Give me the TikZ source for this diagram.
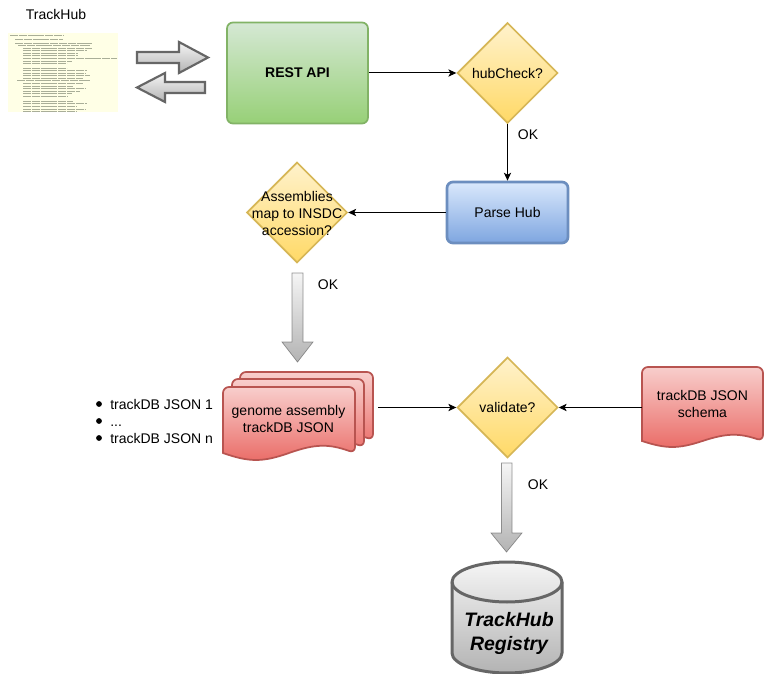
\documentclass[tikz,border=0pt]{standalone}
\usepackage{fontspec}
\setmainfont{Liberation Sans}
\usetikzlibrary{arrows.meta,shapes.geometric}
\definecolor{bordgray}{HTML}{666666}
\definecolor{lgray}{HTML}{F5F5F5}
\definecolor{dgray}{HTML}{B3B3B3}
\definecolor{greentop}{HTML}{D5E8D4}
\definecolor{greenbot}{HTML}{97D077}
\definecolor{greenbord}{HTML}{82B366}
\definecolor{yeltop}{HTML}{FFF2CC}
\definecolor{yelbot}{HTML}{FFD966}
\definecolor{yelbord}{HTML}{D6B656}
\definecolor{bluetop}{HTML}{DAE8FC}
\definecolor{bluebot}{HTML}{7EA6E0}
\definecolor{bluebord}{HTML}{6C8EBF}
\definecolor{redtop}{HTML}{F8CECC}
\definecolor{redbot}{HTML}{EA6B66}
\definecolor{redbord}{HTML}{B85450}
\definecolor{paper}{HTML}{FFFFE6}
\definecolor{codeline}{HTML}{A9AE98}
\tikzset{
  txt/.style={font=\fontsize{10.5}{12.75}\selectfont,align=center,inner sep=0pt,text=black},
  restbox/.style={rectangle,rounded corners=4.5pt,top color=greentop,bottom color=greenbot,draw=greenbord,line width=1.3pt,minimum width=105.75pt,minimum height=75.75pt,inner sep=0pt},
  parsebox/.style={rectangle,rounded corners=4.5pt,top color=bluetop,bottom color=bluebot,draw=bluebord,line width=2pt,minimum width=90.75pt,minimum height=45.75pt,inner sep=0pt},
  decision/.style={diamond,aspect=1,top color=yeltop,bottom color=yelbot,draw=yelbord,line width=1.3pt,minimum width=75.5pt,minimum height=75.5pt,inner sep=0pt},
  reddoc/.style={top color=redtop,bottom color=redbot,draw=redbord,line width=1.3pt},
  fatarrow/.style={top color=lgray,bottom color=dgray,draw=bordgray,line width=.5pt,draw opacity=.7},
  swaparrow/.style={top color=lgray,bottom color=dgray,draw=bordgray,line width=1.6pt},
  flow/.style={draw=black,line width=.75pt,-{Stealth[length=6pt,width=5.5pt,inset=1.6pt]}},
}
% x0, y0 (top), x1, yb (wave base), d
\newcommand{\wavedoc}[5]{%
  \pgfmathsetmacro{\wW}{#3-#1}%
  \pgfmathsetmacro{\wA}{#3-0.2*\wW}%
  \pgfmathsetmacro{\wB}{#3-0.3*\wW}%
  \pgfmathsetmacro{\wM}{#1+0.5*\wW}%
  \pgfmathsetmacro{\wC}{#1+0.3*\wW}%
  \pgfmathsetmacro{\wD}{#1+0.2*\wW}%
  \pgfmathsetmacro{\wU}{#4-1.33*#5}%
  \pgfmathsetmacro{\wL}{#4+1.33*#5}%
  \path[reddoc] (#1,#4) [rounded corners=4.5pt] -- (#1,#2) -- (#3,#2) -- (#3,#4) [sharp corners]
    .. controls (\wA,\wU) and (\wB,\wU) .. (\wM,#4)
    .. controls (\wC,\wL) and (\wD,\wL) .. (#1,#4) -- cycle;}
\begin{document}
\begin{tikzpicture}[x=0.75pt,y=-0.75pt]
\useasboundingbox (0,0) rectangle (772,674);
\fill[white] (0,0) rectangle (772,674);

% TrackHub thumbnail
\node[txt] (thlabel) at (56,14) {TrackHub};
\fill[paper] (8,33) rectangle (118,112);
\foreach \yy/\xa/\xb in {35/10/63,39/15/63,43/15/92,45/18/90,48/23/92,50/23/87,53/23/78,55/23/78,58/23/117,61/23/72,63/23/67,68/23/67,70/23/87,73/23/85,75/23/90,78/23/83,80/17/90,83/23/83,86/23/73,88/23/85,91/23/80,93/23/72,96/23/68,101/23/73,103/23/87,106/23/77,109/23/85,111/23/77}
  \draw[codeline,line width=.6pt,dash pattern=on 6pt off .6pt] (\xa,\yy) -- (\xb,\yy);

% swap arrows
\path[swaparrow] (137,52) -- (179,52) -- (179,42) -- (208,57.5) -- (179,73) -- (179,63) -- (137,63) -- cycle;
\path[swaparrow] (205,82) -- (165,82) -- (165,73) -- (137,87.5) -- (165,102) -- (165,93) -- (205,93) -- cycle;

% boxes and decisions
\node[restbox,txt,font=\fontsize{10.5}{12.75}\selectfont\bfseries,inner sep=0pt] (rest) at (297.5,73) {REST API};
\node[decision,label={[txt]center:hubCheck?}] (hub) at (507.5,73) {};
\node[parsebox,txt,inner sep=0pt] (parse) at (507.5,212.5) {Parse Hub};
\node[decision,label={[txt,yshift=-1.1pt]center:{Assemblies\\map to INSDC\\accession?}}] (asm) at (297,212.5) {};
\node[decision,label={[txt]center:validate?}] (val) at (507.5,407.5) {};

% fat arrows
\path[fatarrow] (292,273) -- (303,273) -- (303,342) -- (313,342) -- (297.5,362) -- (282,342) -- (292,342) -- cycle;
\path[fatarrow] (501.5,463) -- (512,463) -- (512,533) -- (522,533) -- (506.5,552) -- (491,533) -- (501.5,533) -- cycle;
\node[txt] (ok1) at (528,134.5) {OK};
\node[txt] (ok2) at (328,284.5) {OK};
\node[txt] (ok3) at (538,484.5) {OK};

% stacked documents
\wavedoc{240}{372}{373}{440}{7}
\wavedoc{232}{379}{364}{447}{7}
\wavedoc{223}{387}{355}{453}{7}
\node[txt] (docs) at (288.5,418.5) {genome assembly\\trackDB JSON};
\coordinate (docsout) at (378,407.5);

% bullet list
\fill[black] (99,404) circle (2.9);
\fill[black] (99,421) circle (2.9);
\fill[black] (99,438) circle (2.9);
\node[txt,align=left,anchor=west] (bullets) at (110,421) {trackDB JSON 1\\...\\trackDB JSON n};

% schema document
\wavedoc{642}{367}{763}{441}{6}
\node[txt,minimum width=90.75pt,minimum height=55pt] (schema) at (702.5,404) {trackDB JSON\\schema};

% registry cylinder
\path[top color=lgray,bottom color=dgray,draw=bordgray,line width=2.25pt]
  (452,582) .. controls (452,571) and (477.4,562) .. (507,562)
  .. controls (536.6,562) and (562,571) .. (562,582) -- (562,653)
  .. controls (562,664) and (536.6,673) .. (507,673)
  .. controls (477.4,673) and (452,664) .. (452,653) -- cycle;
\draw[bordgray,line width=2.25pt] (452,582) .. controls (452,593) and (477.4,602) .. (507,602)
  .. controls (536.6,602) and (562,593) .. (562,582);
\node[txt,font=\fontsize{14.6}{18}\selectfont\bfseries\itshape] (reg) at (509,633) {TrackHub\\Registry};

% connectors
\draw[flow] (rest.east) -- (hub.west);
\draw[flow] (hub.south) -- (parse.north);
\draw[flow] (parse.west) -- (asm.east);
\draw[flow] (docsout) -- (val.west);
\draw[flow] (schema.west |- val.east) -- (val.east);
\end{tikzpicture}
\end{document}
